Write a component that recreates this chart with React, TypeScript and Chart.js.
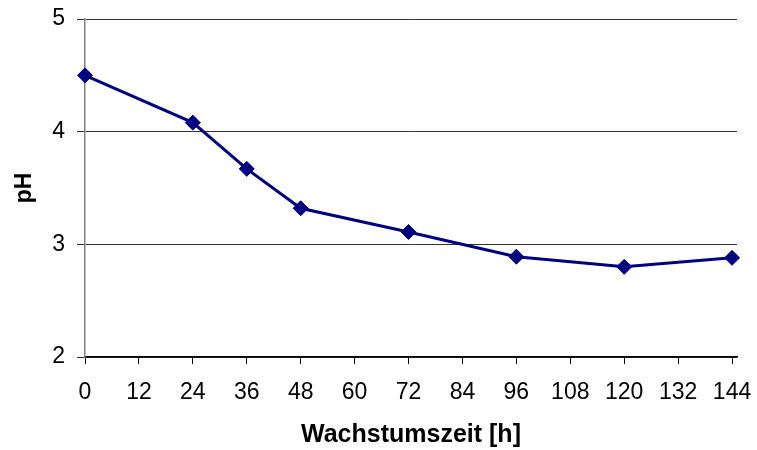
import React, { useEffect, useRef } from "react";
import { Chart, registerables } from "chart.js";

Chart.register(...registerables);

const hours = [0, 24, 36, 48, 72, 96, 120, 144];
const phValues = [4.5, 4.08, 3.67, 3.32, 3.11, 2.89, 2.8, 2.88];
const xTicks = [0, 12, 24, 36, 48, 60, 72, 84, 96, 108, 120, 132, 144];
const yTicks = [2, 3, 4, 5];
const xTitle = "Wachstumszeit [h]";
const yTitle = "pH";

export default function App() {
  const ref = useRef<HTMLCanvasElement>(null);
  useEffect(() => {
    if (!ref.current) return;
    const font = "'Liberation Sans', Arial, sans-serif";
    const chart = new Chart(ref.current, {
      type: "line",
      data: {
        datasets: [
          {
            data: hours.map((h, i) => ({ x: h, y: phValues[i] })),
            borderColor: "#000080",
            backgroundColor: "#000080",
            borderWidth: 3,
            pointStyle: "rectRot",
            pointRadius: 7.5,
            pointBorderWidth: 1,
            pointBackgroundColor: "#000080",
            pointBorderColor: "#000080",
            tension: 0,
            clip: false,
          } as any,
        ],
      },
      options: {
        responsive: false,
        animation: false,
        layout: { padding: { left: 0, right: 20, top: 19, bottom: 0 } },
        plugins: { legend: { display: false }, tooltip: { enabled: false } },
        scales: {
          x: {
            type: "linear",
            min: 0,
            max: 145.1,
            afterBuildTicks: (s: any) => {
              s.ticks = xTicks.map((v) => ({ value: v }));
            },
            afterFit: (s: any) => {
              s.height = 93;
              s.paddingLeft = 0;
              s.paddingRight = 0;
            },
            ticks: {
              color: "#000",
              font: { family: font, size: 23 },
              padding: 15,
              maxRotation: 0,
              autoSkip: false,
            },
            grid: {
              drawOnChartArea: false,
              drawTicks: true,
              tickLength: 7,
              tickColor: "#000",
            },
            border: { color: "#000", width: 1.5 },
            title: {
              display: true,
              text: xTitle,
              color: "#000",
              font: { family: font, size: 25, weight: "bold" },
              padding: { top: 0, bottom: 0 },
            },
          },
          y: {
            type: "linear",
            min: 2,
            max: 5,
            afterBuildTicks: (s: any) => {
              s.ticks = yTicks.map((v) => ({ value: v }));
            },
            afterFit: (s: any) => {
              s.width = 85;
              s.paddingTop = 0;
              s.paddingBottom = 0;
            },
            ticks: {
              color: "#000",
              font: { family: font, size: 23 },
              padding: 12,
            },
            grid: {
              color: "#333",
              lineWidth: 1,
              drawTicks: true,
              tickLength: 8,
              tickColor: "#333",
            },
            border: { color: "#808080", width: 1.5 },
            title: {
              display: true,
              text: yTitle,
              color: "#000",
              font: { family: font, size: 23, weight: "bold" },
              padding: { top: 11, bottom: 0 },
            },
          },
        },
      },
    });
    return () => chart.destroy();
  }, []);
  return (
    <div style={{ position: "absolute", left: 0, top: 0, width: 757, height: 450, background: "#fff" }}>
      <canvas ref={ref} width={757} height={450} />
    </div>
  );
}
